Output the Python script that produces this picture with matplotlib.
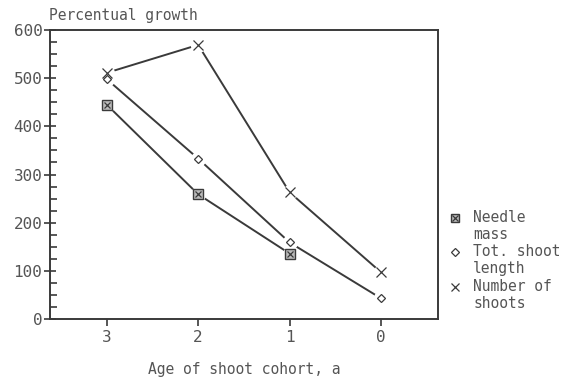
import matplotlib
matplotlib.use("Agg")
import matplotlib.pyplot as plt
from matplotlib.ticker import MultipleLocator

ages = [3, 2, 1, 0]
needle_x = [3, 2, 1]
needle_mass = [445, 259, 136]
shoot_length = [498, 333, 159, 43]
n_shoots = [511, 569, 263, 97]
labels = ["Needle\nmass", "Tot. shoot\nlength", "Number of\nshoots"]

plt.rcParams['font.family'] = ['DejaVu Sans Mono']
tc = '#555555'
lc = '#3a3a3a'

fig = plt.figure(figsize=(5.62, 3.79), dpi=100)
ax = fig.add_axes([0.089, 0.158, 0.69, 0.763])

def series(x, y, kind):
    ax.plot(x, y, color=lc, lw=1.4, zorder=1)
    ax.plot(x, y, ls='none', marker='o', ms=11, mfc='white', mec='none', zorder=2)
    if kind == 'box':
        ax.plot(x, y, ls='none', marker='s', ms=6.5, mfc='#bbbbbb', mec=lc, mew=1.0, zorder=3)
        ax.plot(x, y, ls='none', marker='x', ms=5, mec=lc, mew=0.9, zorder=4)
    elif kind == 'diamond':
        ax.plot(x, y, ls='none', marker='D', ms=4.5, mfc='white', mec=lc, mew=0.9, zorder=3)
    else:
        ax.plot(x, y, ls='none', marker='x', ms=7, mec=lc, mew=0.9, zorder=3)

series(needle_x, needle_mass, 'box')
series(ages, shoot_length, 'diamond')
series(ages, n_shoots, 'x')

ax.set_xlim(3.62, -0.62)
ax.set_ylim(0, 600)
ax.set_xticks(ages)
ax.set_xticklabels([str(a) for a in ages])
ax.yaxis.set_major_locator(MultipleLocator(100))
ax.yaxis.set_minor_locator(MultipleLocator(25))
ax.tick_params(axis='y', which='major', direction='inout', length=9, width=1.2, colors=lc,
               labelcolor=tc, labelsize=11.5, pad=1)
ax.tick_params(axis='y', which='minor', direction='in', length=5, width=1.2, colors=lc)
ax.tick_params(axis='x', which='major', direction='out', length=5, width=1.2, colors=lc,
               labelcolor=tc, labelsize=11.5, pad=3)
for s in ax.spines.values():
    s.set_color(lc)
    s.set_linewidth(1.4)

fig.text(0.087, 0.96, "Percentual growth", fontsize=10.5, color=tc, ha='left', va='center')
fig.text(0.434, 0.024, "Age of shoot cohort, a", fontsize=10.5, color=tc, ha='center', va='center')

# legend
lx_m = 0.81
lx_t = 0.842
ys = [0.425, 0.335, 0.243]
kinds = ['box', 'diamond', 'x']
for yv, lab, k in zip(ys, labels, kinds):
    if k == 'box':
        fig.add_artist(plt.Line2D([lx_m], [yv], marker='s', ms=6, mfc='#bbbbbb', mec=lc, mew=1.0, transform=fig.transFigure))
        fig.add_artist(plt.Line2D([lx_m], [yv], marker='x', ms=4.5, mec=lc, mew=0.9, transform=fig.transFigure))
    elif k == 'diamond':
        fig.add_artist(plt.Line2D([lx_m], [yv], marker='D', ms=4, mfc='white', mec=lc, mew=0.9, transform=fig.transFigure))
    else:
        fig.add_artist(plt.Line2D([lx_m], [yv], marker='x', ms=6, mec=lc, mew=0.9, transform=fig.transFigure))
    fig.text(lx_t, yv + 0.02, lab, fontsize=10.5, color=tc, ha='left', va='top', linespacing=1.15,
             transform=fig.transFigure)

fig.savefig("out.png", dpi=100)
